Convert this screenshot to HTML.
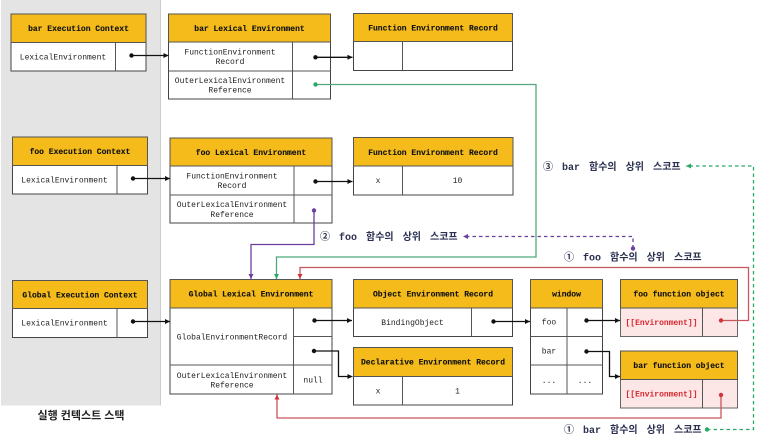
<!DOCTYPE html>
<html><head><meta charset="utf-8"><style>
html,body{margin:0;padding:0;background:#fff}
svg{display:block}
text{font-family:"Liberation Mono","Noto Sans CJK KR",monospace}
.h{font-size:8px;font-weight:bold;fill:#111;text-anchor:middle;stroke:#111;stroke-width:.12}
.b{font-size:8px;fill:#222;text-anchor:middle}
.l{font-size:10px;font-weight:bold;fill:#2b3050;word-spacing:3px}
.box{fill:#fff;stroke:#444;stroke-width:1}
.hd{fill:#f4bb1a;stroke:#555;stroke-width:1}
.ln{stroke:#555;stroke-width:1;fill:none}
.pk{fill:#fde6e6;stroke:#666;stroke-width:1}
.c{fill:none;stroke-width:1.3}
</style></head><body>
<svg width="757" height="438" viewBox="0 0 757 438" xmlns="http://www.w3.org/2000/svg">
<defs>
<marker id="ak" markerWidth="6" markerHeight="6" refX="5" refY="3" orient="auto" markerUnits="userSpaceOnUse"><path d="M0 .5L5 3L0 5.500z" fill="#111"/></marker>
<marker id="ag" markerWidth="6" markerHeight="6" refX="5" refY="3" orient="auto" markerUnits="userSpaceOnUse"><path d="M0 .5L5 3L0 5.500z" fill="#2aa866"/></marker>
<marker id="ap" markerWidth="6" markerHeight="6" refX="5" refY="3" orient="auto" markerUnits="userSpaceOnUse"><path d="M0 .5L5 3L0 5.500z" fill="#6b3fa0"/></marker>
<marker id="ar" markerWidth="6" markerHeight="6" refX="5" refY="3" orient="auto" markerUnits="userSpaceOnUse"><path d="M0 .5L5 3L0 5.500z" fill="#d0343c"/></marker>
</defs>
<rect x="1" y="0" width="159.500" height="405.500" fill="#e5e4e5"/>
<line x1="160.500" y1="0" x2="160.500" y2="405.500" stroke="#ccc"/>

<!-- bar EC -->
<rect class="box" x="11" y="14" width="135" height="57"/><rect class="hd" x="11" y="14" width="135" height="28.500"/><line class="ln" x1="115.500" y1="42.500" x2="115.500" y2="71"/>
<text class="h" x="78.500" y="31">bar Execution Context</text><text class="b" x="63" y="59.500">LexicalEnvironment</text>
<!-- bar LE -->
<rect class="box" x="168.500" y="14" width="162" height="85"/><rect class="hd" x="168.500" y="14" width="162" height="28"/><line class="ln" x1="168.500" y1="71" x2="330.500" y2="71"/><line class="ln" x1="292.500" y1="42" x2="292.500" y2="99"/>
<text class="h" x="249.500" y="31">bar Lexical Environment</text>
<text class="b" x="230" y="54.500">FunctionEnvironment</text><text class="b" x="230" y="64">Record</text>
<text class="b" x="230" y="83">OuterLexicalEnvironment</text><text class="b" x="230" y="92.500">Reference</text>
<!-- FER top -->
<rect class="box" x="353.500" y="13.500" width="159" height="57"/><rect class="hd" x="353.500" y="13.500" width="159" height="28"/><line class="ln" x1="402.500" y1="41.500" x2="402.500" y2="70.500"/>
<text class="h" x="433" y="30.500">Function Environment Record</text>

<!-- foo EC -->
<rect class="box" x="12.500" y="137" width="135" height="57"/><rect class="hd" x="12.500" y="137" width="135" height="28.500"/><line class="ln" x1="117" y1="165.500" x2="117" y2="194"/>
<text class="h" x="80" y="154">foo Execution Context</text><text class="b" x="64.500" y="182.500">LexicalEnvironment</text>
<!-- foo LE -->
<rect class="box" x="170" y="138" width="162" height="85"/><rect class="hd" x="170" y="138" width="162" height="28"/><line class="ln" x1="170" y1="195" x2="332" y2="195"/><line class="ln" x1="294" y1="166" x2="294" y2="223"/>
<text class="h" x="251" y="155">foo Lexical Environment</text>
<text class="b" x="232" y="178.500">FunctionEnvironment</text><text class="b" x="232" y="188">Record</text>
<text class="b" x="232" y="207">OuterLexicalEnvironment</text><text class="b" x="232" y="217">Reference</text>
<!-- FER foo -->
<rect class="box" x="353.500" y="137.500" width="159.500" height="57.500"/><rect class="hd" x="353.500" y="137.500" width="159.500" height="28.500"/><line class="ln" x1="402.500" y1="166" x2="402.500" y2="195"/>
<text class="h" x="433" y="155">Function Environment Record</text>
<text class="b" x="378" y="183">x</text><text class="b" x="457.500" y="183">10</text>

<!-- Global EC -->
<rect class="box" x="12.500" y="280.500" width="135" height="57"/><rect class="hd" x="12.500" y="280.500" width="135" height="28"/><line class="ln" x1="117" y1="308.500" x2="117" y2="337.500"/>
<text class="h" x="80" y="297.500">Global Execution Context</text><text class="b" x="64.500" y="325.500">LexicalEnvironment</text>
<!-- Global LE -->
<rect class="box" x="170" y="279.500" width="162" height="114.500"/><rect class="hd" x="170" y="279.500" width="162" height="28.500"/>
<line class="ln" x1="170" y1="365" x2="332" y2="365"/><line class="ln" x1="293.500" y1="308" x2="293.500" y2="394"/><line class="ln" x1="293.500" y1="336.500" x2="332" y2="336.500"/>
<text class="h" x="251" y="296.500">Global Lexical Environment</text>
<text class="b" x="232" y="339.500">GlobalEnvironmentRecord</text>
<text class="b" x="232" y="378">OuterLexicalEnvironment</text><text class="b" x="232" y="387.500">Reference</text>
<text class="b" x="313" y="382.500">null</text>
<!-- Object ER -->
<rect class="box" x="353.500" y="279.500" width="159" height="57"/><rect class="hd" x="353.500" y="279.500" width="159" height="28.500"/><line class="ln" x1="471.500" y1="308" x2="471.500" y2="336.500"/>
<text class="h" x="433" y="296.500">Object Environment Record</text><text class="b" x="412.500" y="325">BindingObject</text>
<!-- Decl ER -->
<rect class="box" x="353.500" y="347.500" width="159" height="57.500"/><rect class="hd" x="353.500" y="347.500" width="159" height="29"/><line class="ln" x1="402.500" y1="376.500" x2="402.500" y2="405"/>
<text class="h" x="433" y="364.500">Declarative Environment Record</text>
<text class="b" x="378" y="393.500">x</text><text class="b" x="457.500" y="393.500">1</text>
<!-- window -->
<rect class="box" x="530.500" y="279.500" width="72" height="114.500"/><rect class="hd" x="530.500" y="279.500" width="72" height="28.500"/>
<line class="ln" x1="530.500" y1="336.500" x2="602.500" y2="336.500"/><line class="ln" x1="530.500" y1="365" x2="602.500" y2="365"/><line class="ln" x1="567" y1="308" x2="567" y2="394"/>
<text class="h" x="566.500" y="296.500">window</text>
<text class="b" x="549" y="324.500">foo</text><text class="b" x="549" y="353.500">bar</text><text class="b" x="549" y="383">...</text><text class="b" x="585" y="383">...</text>
<!-- foo fo -->
<rect class="pk" x="620.500" y="279.500" width="117" height="57"/><rect class="hd" x="620.500" y="279.500" width="117" height="28.500"/><line class="ln" x1="702.500" y1="308" x2="702.500" y2="336.500"/>
<text class="h" x="679" y="296.500">foo function object</text>
<text x="661.500" y="325" style="font-size:8px;font-weight:bold;fill:#d8262e;text-anchor:middle">[[Environment]]</text>
<!-- bar fo -->
<rect class="pk" x="620.500" y="351" width="117" height="57"/><rect class="hd" x="620.500" y="351" width="117" height="28.500"/><line class="ln" x1="702.500" y1="379.500" x2="702.500" y2="408"/>
<text class="h" x="679" y="368">bar function object</text>
<text x="661.500" y="396.500" style="font-size:8px;font-weight:bold;fill:#d8262e;text-anchor:middle">[[Environment]]</text>

<!-- black connectors -->
<path class="c" stroke="#111" d="M131.500 55.500H168.500" marker-end="url(#ak)"/>
<path class="c" stroke="#111" d="M315.500 57.300H352.500" marker-end="url(#ak)"/>
<path class="c" stroke="#111" d="M133 178.500H170" marker-end="url(#ak)"/>
<path class="c" stroke="#111" d="M315.500 181.500H352.500" marker-end="url(#ak)"/>
<path class="c" stroke="#111" d="M133 321.500H170" marker-end="url(#ak)"/>
<path class="c" stroke="#111" d="M314.500 320.500H352" marker-end="url(#ak)"/>
<path class="c" stroke="#111" d="M314 351H338.500V376.500H352.500" marker-end="url(#ak)"/>
<path class="c" stroke="#111" d="M493.500 321.500H530" marker-end="url(#ak)"/>
<path class="c" stroke="#111" d="M586.500 320.500H620" marker-end="url(#ak)"/>
<path class="c" stroke="#111" d="M586.500 351.500H609.500V376.500H620" marker-end="url(#ak)"/>
<g fill="#111">
<circle cx="131.500" cy="55.500" r="2.200"/><circle cx="315.500" cy="57.300" r="2.200"/><circle cx="133" cy="178.500" r="2.200"/><circle cx="315.500" cy="181.500" r="2.200"/><circle cx="133" cy="321.500" r="2.200"/><circle cx="314.500" cy="320.500" r="2.200"/><circle cx="314" cy="351" r="2.200"/><circle cx="493.500" cy="321.500" r="2.200"/><circle cx="586.500" cy="320.500" r="2.200"/><circle cx="586.500" cy="351.500" r="2.200"/>
</g>
<!-- green -->
<path class="c" stroke="#4fa97c" d="M315.500 84.500H536V257H276.500V279" marker-end="url(#ag)"/>
<circle cx="315.500" cy="84.500" r="2.200" fill="#2aa866"/>
<!-- purple -->
<path class="c" stroke="#6b3fa0" d="M314 210.500V244.500H251V279" marker-end="url(#ap)"/>
<circle cx="314" cy="210.500" r="2.200" fill="#6b3fa0"/>
<!-- red -->
<path class="c" stroke="#c8565c" d="M721 320.500H748.500V267.500H300V279" marker-end="url(#ar)"/>
<circle cx="721" cy="320.500" r="2.200" fill="#d0343c"/>
<path class="c" stroke="#c8565c" d="M721 395V418H277V394.500" marker-end="url(#ar)"/>
<circle cx="721" cy="395" r="2.200" fill="#d0343c"/>
<!-- dashed -->
<path class="c" stroke="#2aa866" stroke-dasharray="3.500 3" d="M707 429.500H753.500V166H686" marker-end="url(#ag)"/>
<circle cx="707" cy="429.500" r="2.200" fill="#2aa866"/>
<path class="c" stroke="#6b3fa0" stroke-dasharray="3.500 3" d="M633 248.500V236.500H463" marker-end="url(#ap)"/>
<circle cx="633" cy="248.500" r="2.200" fill="#6b3fa0"/>
<!-- labels -->
<text class="l" x="543" y="170">③ bar 함수의 상위 스코프</text>
<text class="l" x="320" y="240">② foo 함수의 상위 스코프</text>
<text class="l" x="564" y="260.500">① foo 함수의 상위 스코프</text>
<text class="l" x="564" y="433">① bar 함수의 상위 스코프</text>
<text x="81" y="419" style="font-size:11px;font-weight:bold;fill:#222;text-anchor:middle;font-family:'Liberation Sans','Noto Sans CJK KR',sans-serif">실행 컨텍스트 스택</text>
</svg>
</body></html>
